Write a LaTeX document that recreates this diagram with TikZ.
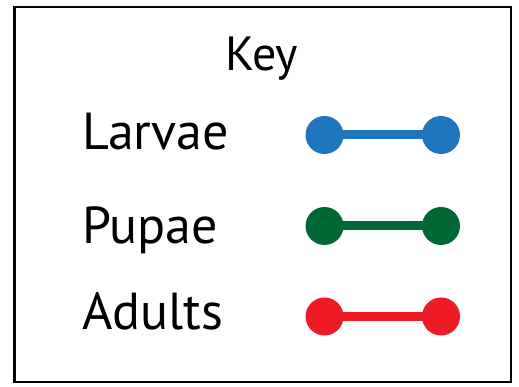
\documentclass[tikz,border=0pt]{standalone}
\usepackage{fontspec}
\setmainfont{PT Sans}
\definecolor{lblue}{HTML}{1F75BE}
\definecolor{lgreen}{HTML}{006837}
\definecolor{lred}{HTML}{ED1C24}
\begin{document}
\begin{tikzpicture}[x=1pt,y=1pt,
  lbl/.style={anchor=base west,inner sep=0pt,font=\fontsize{52}{60}\selectfont},
  dot/.style={circle,fill=#1,minimum size=38pt,inner sep=0pt},
  bar/.style={line width=9pt,draw=#1}]
\useasboundingbox (0,0) rectangle (519,387);
\draw[line width=2.5pt] (14.5,5) rectangle (511,380);
\node[anchor=base,inner sep=0pt,font=\fontsize{48}{56}\selectfont] (key) at (261.5,316) {Key};
\node[lbl] (larvae) at (82,237) {Larvae};
\node[lbl] (pupae) at (82,143) {Pupae};
\node[lbl] (adults) at (82,57) {Adults};
\node[dot=lblue] (b1) at (324.5,252) {};
\node[dot=lblue] (b2) at (441,252) {};
\node[dot=lgreen] (g1) at (324.5,161) {};
\node[dot=lgreen] (g2) at (441,161) {};
\node[dot=lred] (r1) at (324.5,70.5) {};
\node[dot=lred] (r2) at (441,70.5) {};
\draw[bar=lblue] (b1.center) -- (b2.center);
\draw[bar=lgreen] (g1.center) -- (g2.center);
\draw[bar=lred] (r1.center) -- (r2.center);
\end{tikzpicture}
\end{document}
